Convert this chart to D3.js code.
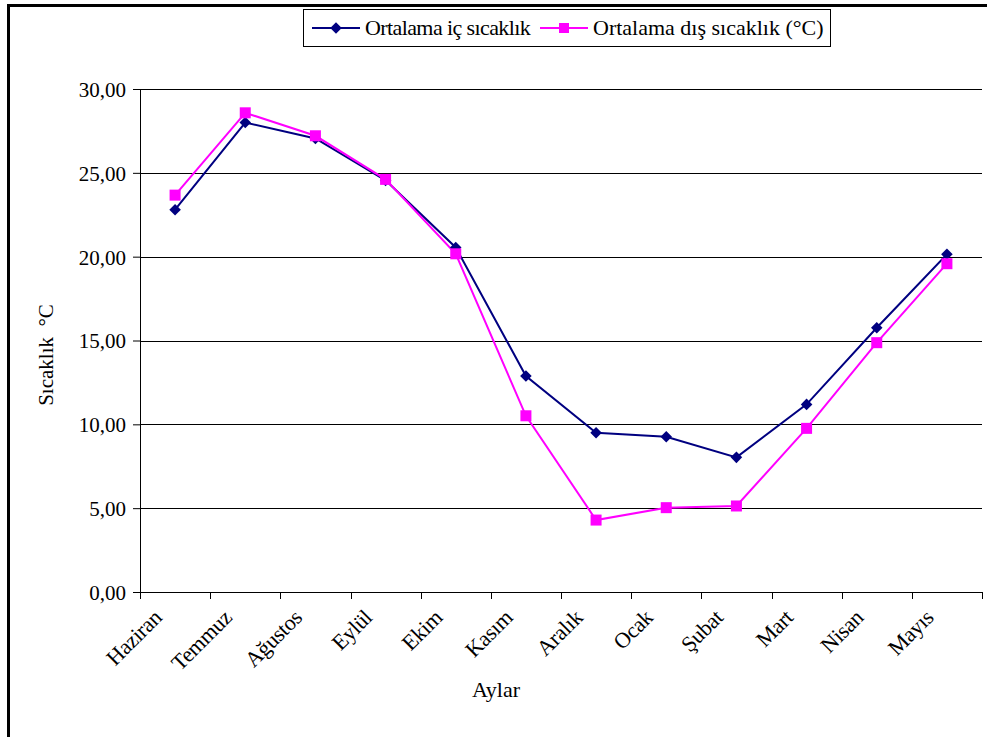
<!DOCTYPE html>
<html>
<head>
<meta charset="utf-8">
<script src="https://cdn.jsdelivr.net/npm/d3@7"></script>
<style>
  body { margin: 0; background: #fff; }
  text { font-family: "Liberation Serif", "Times New Roman", serif; fill: #000; }
</style>
</head>
<body>
<div id="chart"></div>
<script>
// months (June -> May)
var months = ["Haziran", "Temmuz", "Ağustos", "Eylül", "Ekim", "Kasım",
  "Aralık", "Ocak", "Şubat", "Mart", "Nisan", "Mayıs"];
var insideTemp = [22.8, 28.0, 27.05, 24.55, 20.55, 12.88, 9.5, 9.26, 8.03, 11.19, 15.76, 20.14];
var outsideTemp = [23.67, 28.58, 27.21, 24.61, 20.17, 10.51, 4.29, 5.03, 5.13, 9.76, 14.87, 19.58];
var yTicks = [0, 5, 10, 15, 20, 25, 30];
var seriesNames = ["Ortalama iç sıcaklık", "Ortalama dış sıcaklık (°C)"];

var svgWidth = 987, svgHeight = 737;
var margin = { top: 89, right: 5, bottom: 145, left: 140 };
var width = 982 - margin.left;
var height = 592 - margin.top;

var svg = d3.select("#chart").append("svg")
  .attr("width", svgWidth)
  .attr("height", svgHeight);

// outer frame (cut off at right and bottom)
svg.append("rect")
  .attr("x", 8.5).attr("y", 5.5)
  .attr("width", 1000).attr("height", 1000)
  .attr("fill", "none").attr("stroke", "#000").attr("stroke-width", 3);

var chartGroup = svg.append("g")
  .attr("transform", `translate(${margin.left}, ${margin.top})`);

var xScale = d3.scaleBand().domain(months).range([0, width]);
var yScale = d3.scaleLinear().domain([0, 30]).range([height, 0]);

// gridlines
chartGroup.selectAll(".grid").data(yTicks).enter()
  .append("line")
  .attr("x1", 0).attr("x2", width)
  .attr("y1", d => Math.round(yScale(d)) + 0.5)
  .attr("y2", d => Math.round(yScale(d)) + 0.5)
  .attr("stroke", "#000").attr("stroke-width", 1);

// y axis
var leftAxis = d3.axisLeft(yScale)
  .tickValues(yTicks)
  .tickSize(7)
  .tickPadding(7)
  .tickFormat(d => d3.format(".2f")(d).replace(".", ","));
var yAxisG = chartGroup.append("g").call(leftAxis);
yAxisG.selectAll("text").style("font-size", "21px").attr("dy", "0.35em");
yAxisG.select(".domain").attr("d", `M0.5,0V${height}`);

// x axis
var bottomAxis = d3.axisBottom(xScale).tickSize(0).tickFormat("");
var xAxisG = chartGroup.append("g")
  .attr("transform", `translate(0, ${height})`)
  .call(bottomAxis);
xAxisG.select(".domain").attr("d", `M0,0.5H${width}`);
// tick marks at band boundaries
chartGroup.selectAll(".xtick").data(months.concat(["end"])).enter()
  .append("line")
  .attr("x1", (d, i) => Math.round(i * xScale.bandwidth()) + 0.5)
  .attr("x2", (d, i) => Math.round(i * xScale.bandwidth()) + 0.5)
  .attr("y1", height).attr("y2", height + 7)
  .attr("stroke", "#000");

// category labels, rotated
chartGroup.selectAll(".xlabel").data(months).enter()
  .append("text")
  .attr("transform", d => `translate(${xScale(d) + xScale.bandwidth() / 2 - 23}, ${height + 16}) rotate(-45)`)
  .attr("text-anchor", "end")
  .attr("dy", "0.7em")
  .style("font-size", "22px")
  .style("letter-spacing", "-0.3px")
  .text(d => d);

// axis titles
svg.append("text")
  .attr("x", 496).attr("y", 697)
  .attr("text-anchor", "middle")
  .style("font-size", "22px")
  .text("Aylar");

svg.append("text")
  .attr("transform", "translate(53, 355) rotate(-90)")
  .attr("text-anchor", "middle")
  .style("font-size", "21px")
  .style("white-space", "pre")
  .text("Sıcaklık  °C");

// lines
var xc = d => xScale(d) + xScale.bandwidth() / 2;
var line = d3.line().x(d => xc(d.m)).y(d => yScale(d.v));

var inside = months.map((m, i) => ({ m: m, v: insideTemp[i] }));
var outside = months.map((m, i) => ({ m: m, v: outsideTemp[i] }));

chartGroup.append("path").datum(inside)
  .attr("d", line).attr("fill", "none")
  .attr("stroke", "#000080").attr("stroke-width", 2);

chartGroup.append("path").datum(outside)
  .attr("d", line).attr("fill", "none")
  .attr("stroke", "#FF00FF").attr("stroke-width", 2);

var diamond = d3.symbol().type(d3.symbolDiamond2).size(85);

chartGroup.selectAll(".dia").data(inside).enter()
  .append("path")
  .attr("d", diamond)
  .attr("transform", d => `translate(${xc(d.m)}, ${yScale(d.v)})`)
  .attr("fill", "#000080");

chartGroup.selectAll(".sq").data(outside).enter()
  .append("rect")
  .attr("x", d => xc(d.m) - 5.5).attr("y", d => yScale(d.v) - 5.5)
  .attr("width", 11).attr("height", 11)
  .attr("fill", "#FF00FF");

// legend
var legend = svg.append("g");
legend.append("rect")
  .attr("x", 303.5).attr("y", 9.5)
  .attr("width", 527).attr("height", 37)
  .attr("fill", "#fff").attr("stroke", "#000");

var legendItems = [
  { name: seriesNames[0], color: "#000080", x: 312, marker: "diamond", ls: -0.6 },
  { name: seriesNames[1], color: "#FF00FF", x: 540, marker: "square", ls: 0 }
];
legendItems.forEach(function (item) {
  legend.append("line")
    .attr("x1", item.x).attr("x2", item.x + 48)
    .attr("y1", 28).attr("y2", 28)
    .attr("stroke", item.color).attr("stroke-width", 2);
  if (item.marker === "diamond") {
    legend.append("path")
      .attr("d", diamond)
      .attr("transform", `translate(${item.x + 24}, 28)`)
      .attr("fill", item.color);
  } else {
    legend.append("rect")
      .attr("x", item.x + 19).attr("y", 23)
      .attr("width", 10).attr("height", 10)
      .attr("fill", item.color);
  }
  legend.append("text")
    .attr("x", item.x + 53).attr("y", 35)
    .style("font-size", "22px")
    .style("letter-spacing", item.ls + "px")
    .text(item.name);
});
</script>
</body>
</html>
